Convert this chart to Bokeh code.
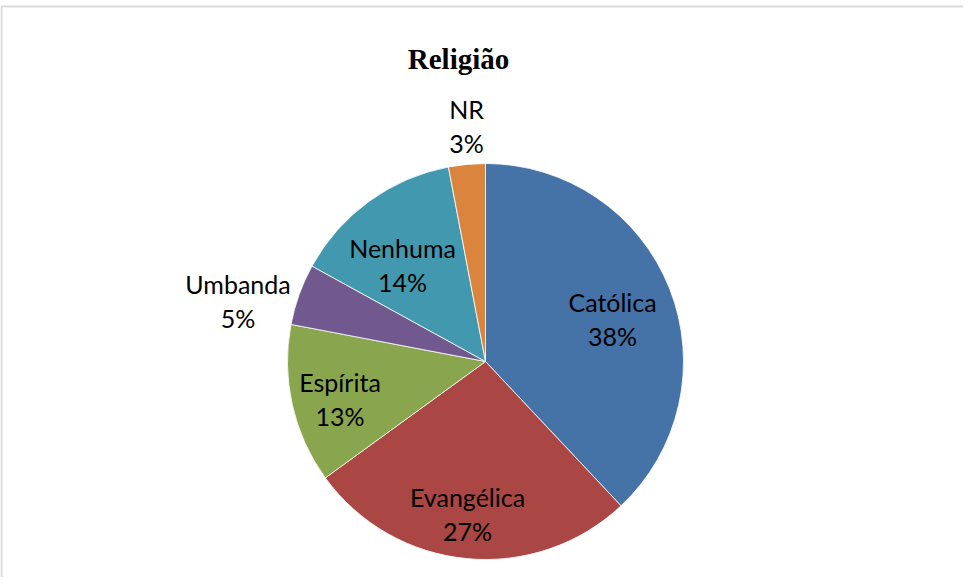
import math
from bokeh.plotting import figure
from bokeh.models import ColumnDataSource, Range1d, BoxAnnotation
from bokeh.core.properties import value
from bokeh.embed import file_html
from bokeh.resources import INLINE

# ---- data ----
categories = ["Católica", "Evangélica", "Espírita", "Umbanda", "Nenhuma", "NR"]
percents = [38, 27, 13, 5, 14, 3]
colors = ["#4572A7", "#AA4643", "#89A54E", "#71588F", "#4198AF", "#DB843D"]
title_text = "Religião"

# ---- layout (label placement relative to slice middle) ----
label_radius_factor = [0.676, 0.778, 0.758, 1.287, 0.641, 1.191]
label_angle_adjust = [-3.3, -1.3, 1.7, 6.0, 4.8, -0.8]

R = 198
W, H = 963, 577
cx_canvas, cy_canvas = 485, 361

total = float(sum(percents))
starts, ends, lx, ly, pct_labels = [], [], [], [], []
cum = 0.0
for i, v in enumerate(percents):
    a0 = 90.0 - cum / total * 360.0
    cum += v
    a1 = 90.0 - cum / total * 360.0
    starts.append(math.radians(a0))
    ends.append(math.radians(a1))
    mid = (a0 + a1) / 2.0 + label_angle_adjust[i]
    r = R * label_radius_factor[i]
    lx.append(r * math.cos(math.radians(mid)))
    ly.append(r * math.sin(math.radians(mid)))
    pct_labels.append(f"{v}%")

src = ColumnDataSource(dict(cat=categories, pct=pct_labels, start=starts, end=ends,
                            color=colors, lx=lx, ly=ly))

p = figure(width=W, height=H, output_backend="svg", toolbar_location=None,
           x_range=Range1d(-cx_canvas, W - cx_canvas),
           y_range=Range1d(-(H - cy_canvas), cy_canvas),
           min_border=0)
p.axis.visible = False
p.grid.visible = False
p.outline_line_color = None
p.background_fill_color = "white"
p.border_fill_color = "white"

# chart-area border (left and top edges visible; right/bottom cut off)
p.add_layout(BoxAnnotation(left=-cx_canvas + 1, top=cy_canvas - 6, right=2000, bottom=-2000,
                           fill_alpha=0, line_color="#868686", line_width=2))

p.wedge(x=0, y=0, radius=R, start_angle="start", end_angle="end", direction="clock",
        fill_color="color", line_color="white", line_width=0.8, source=src)

font = value("Lato")
p.text(x="lx", y="ly", text="cat", source=src, text_font=font, text_font_size="25px",
       text_align="center", text_baseline="middle", text_color="black", y_offset=-17)
p.text(x="lx", y="ly", text="pct", source=src, text_font=font, text_font_size="25px",
       text_align="center", text_baseline="middle", text_color="black", y_offset=17)

p.text(x=[-27], y=[303], text=[title_text], text_font=value("Liberation Serif"),
       text_font_size="29px", text_font_style="bold", text_align="center",
       text_baseline="middle", text_color="black")

open("out.html", "w").write(file_html(p, INLINE))
